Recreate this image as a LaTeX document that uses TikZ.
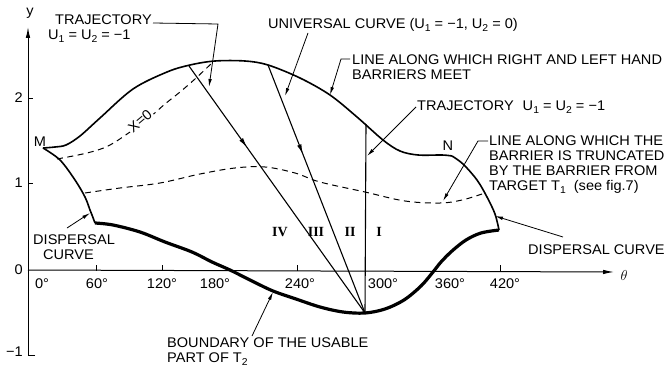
\documentclass[tikz,border=0pt]{standalone}
\usepackage{fontspec}
\setmainfont{Liberation Sans}[FakeStretch=1.04]
\newfontfamily\romfont{Liberation Serif}
\usetikzlibrary{arrows.meta,decorations.markings,calc}
\newcommand\lowsub[1]{\raisebox{-0.4ex}{\fontsize{10}{10}\selectfont #1}}
\begin{document}
\begin{tikzpicture}[x=1pt,y=-1pt,
  lbl/.style={font=\fontsize{14}{15}\selectfont, inner sep=0pt, anchor=west, align=left},
  tlbl/.style={font=\fontsize{14}{15}\selectfont, inner sep=0pt},
  rom/.style={font=\romfont\bfseries\fontsize{14}{15}\selectfont, inner sep=0pt},
  leader/.style={line width=0.8pt, -{Latex[length=8pt,width=3.5pt]}},
  traj/.style={line width=1.1pt},
  midarrow/.style={postaction={decorate}, decoration={markings, mark=at position #1 with {\arrow{Latex[length=10pt,width=4.5pt]}}}},
  topc/.style={line width=1.6pt, line join=round},
  bound/.style={line width=3.2pt, line join=round},
  dsh/.style={line width=1pt, dash pattern=on 6pt off 4.5pt},
  axis/.style={line width=1pt, -{Latex[length=11pt,width=4.5pt]}},
  tick/.style={line width=0.8pt}]
\useasboundingbox (0,0) rectangle (670,369);

% axes
\coordinate (O) at (28,270);
\coordinate (ybot) at (28,355);
\coordinate (ytop) at (28,27);
\coordinate (xend) at (614,272);
\draw[axis] (35,355) -- (ybot) -- (ytop);
\draw[axis] (O) -- (xend);
\node[tlbl] (ylab) at (30,13) {y};
\node[tlbl] (thlab) at (624,275) {$\theta$};
\foreach \yy/\lab in {98/2,183/1,270/0,352/{−1}} {
  \node[tlbl, anchor=east] at (23,\yy) {\lab};
}
\foreach \yy in {98,183} {\draw[tick] (28,\yy) -- (33,\yy);}
\foreach \xx in {96,162,297,500} {\draw[tick] (\xx,270.5) -- (\xx,265);}
\foreach \xx/\lab in {42/0°,97/60°,162/120°,215/180°,300/240°,383/300°,450/360°,505/420°} {
  \node[tlbl] at (\xx,284) {\lab};
}

% key points
\coordinate (M) at (43,148);
\coordinate (N) at (452,156);
\coordinate (P) at (365,313);
\coordinate (E) at (95,223);
\coordinate (F) at (499,230);
\coordinate (t4) at (189,66);
\coordinate (t3) at (268,65);
\coordinate (t1) at (366,124);

% dashed lines
\draw[dsh] plot[smooth,tension=0.6] coordinates {(57,159) (87,153) (108,146) (130,132) (150,117) (165,104) (180,92) (195,79) (213,62)};
\draw[dsh] plot[smooth,tension=0.6] coordinates {(85,193) (120,188) (160,183) (200,174) (235,168) (265,167) (295,173) (320,182) (365,192) (405,201) (440,203) (462,200) (482,194)};
\node[tlbl, rotate=40, fill=white, inner sep=1.5pt] (xzero) at (140,121) {X=0};

% universal curve (top) and dispersal curves
\draw[topc] plot[smooth,tension=0.55] coordinates {(M) (55,147) (66,145) (80,136) (100,118) (133,89) (167,72) (190,65) (215,61) (245,61) (268,65) (300,78) (330,95) (357,117) (383,140) (400,151) (418,155) (442,155) (N)};
\draw[topc] plot[smooth,tension=0.55] coordinates {(N) (463,164) (477,180) (487,197) (495,214) (F)};
\draw[topc] plot[smooth,tension=0.55] coordinates {(M) (60,160) (75,180) (85,197) (90,210) (92,215)} -- (E);

% boundary of usable part
\draw[bound] plot[smooth,tension=0.55] coordinates {(F) (481,233) (466,240) (452,251) (441,262) (433,272) (421,286) (404,300) (385,309) (P) (343,312) (320,307) (296,299) (273,291) (252,281) (230,270) (212,262) (192,252) (165,242) (140,232) (113,225) (E)};

% trajectories
\draw[traj, midarrow=0.33] (t4) -- (P);
\draw[traj, midarrow=0.36] (t3) -- (P);
\draw[traj] (t1) -- (P);

% region numerals
\node[rom] (rIV) at (280,232) {IV};
\node[rom] (rIII) at (316,232) {III};
\node[rom] (rII) at (350,232) {II};
\node[rom] (rI) at (379,232) {I};

\node[tlbl] (Mlab) at (40,142) {M};
\node[tlbl] (Nlab) at (448,146) {N};

% labels and leaders
\node[lbl] (trajL) at (48,28.5) {\hspace*{7pt}TRAJECTORY\\U\lowsub{1} = U\lowsub{2} = −1};
\coordinate (a1) at (153,23);
\coordinate (a2) at (218,24);
\coordinate (a3) at (209,87);
\draw[leader] (a1) -- (a2) -- (a3);

\node[lbl] (univ) at (268,25) {UNIVERSAL CURVE (U\lowsub{1} = −1, U\lowsub{2} = 0)};
\coordinate (b1) at (308,33);
\coordinate (b2) at (285,96);
\draw[leader] (b1) -- (b2);

\node[lbl] (meet) at (352,67.5) {LINE ALONG WHICH RIGHT AND LEFT HAND\\BARRIERS MEET};
\coordinate (c1) at (350,59);
\coordinate (c2) at (341,59);
\coordinate (c3) at (330,95);
\draw[leader] (c1) -- (c2) -- (c3);

\node[lbl] (trajR) at (417,107) {TRAJECTORY\hspace{9pt}U\lowsub{1} = U\lowsub{2} = −1};
\coordinate (d1) at (416,107);
\coordinate (d2) at (367,156);
\draw[leader] (d1) -- (d2);

\node[lbl] (trunc) at (489,164.5) {LINE ALONG WHICH THE\\BARRIER IS TRUNCATED\\BY THE BARRIER FROM\\TARGET T\lowsub{1}\hspace{8pt}(see fig.7)};
\coordinate (e1) at (488,141);
\coordinate (e2) at (478,141);
\coordinate (e3) at (443,201);
\draw[leader] (e1) -- (e2) -- (e3);

\node[lbl] (dispL) at (33,247.5) {DISPERSAL\\\hspace*{10pt}CURVE};
\coordinate (f1) at (67,228);
\coordinate (f2) at (90,213);
\draw[leader] (f1) -- (f2);

\node[lbl] (dispR) at (528,250) {DISPERSAL CURVE};
\coordinate (g1) at (563,237);
\coordinate (g2) at (495,216);
\draw[leader] (g1) -- (g2);

\node[lbl] (bnd) at (167,352) {BOUNDARY OF THE USABLE\\PART OF T\lowsub{2}};
\coordinate (h1) at (252,336);
\coordinate (h2) at (273,292);
\draw[leader] (h1) -- (h2);
\end{tikzpicture}
\end{document}
